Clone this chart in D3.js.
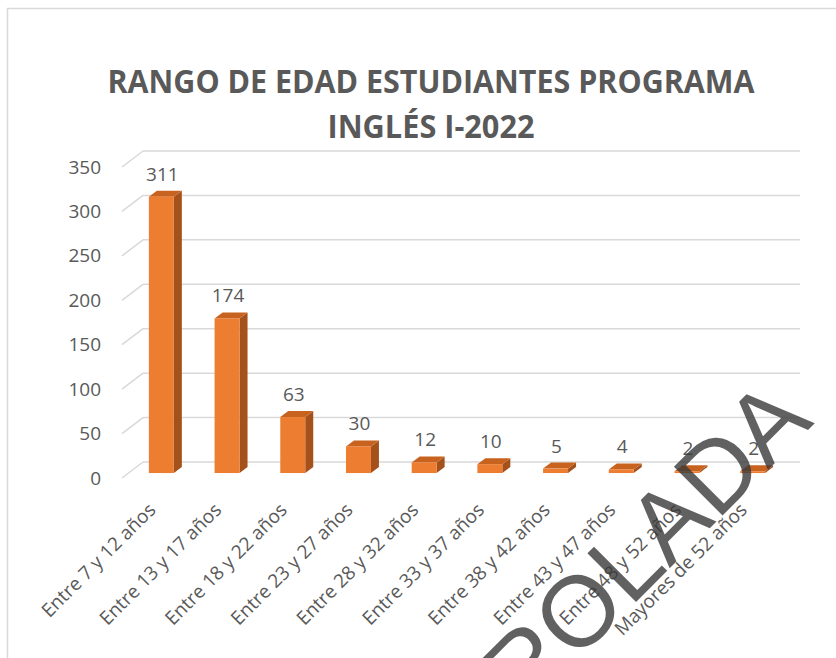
<!DOCTYPE html>
<html>
<head>
<meta charset="utf-8">
<script src="https://cdn.jsdelivr.net/npm/d3@7"></script>
<style>
  body { margin: 0; background: #fff; }
  svg { display: block; font-family: "Open Sans", sans-serif; }
</style>
</head>
<body>
<div id="chart"></div>
<script>
const categories = ["Entre 7 y 12 años", "Entre 13 y 17 años", "Entre 18 y 22 años", "Entre 23 y 27 años",
    "Entre 28 y 32 años", "Entre 33 y 37 años", "Entre 38 y 42 años", "Entre 43 y 47 años",
    "Entre 48 y 52 años", "Mayores de 52 años"];
const values = [311, 174, 63, 30, 12, 10, 5, 4, 2, 2];
const yTicks = [0, 50, 100, 150, 200, 250, 300, 350];
const titleLines = ["RANGO DE EDAD ESTUDIANTES PROGRAMA", "INGLÉS I-2022"];

const width = 836, height = 658;
const grey = "#595959";

// back wall of the 3d plot and the depth offset to the front edge of the floor
const back = { left: 143, right: 800, top: 151, bottom: 462 };
const depth = { dx: -21, dy: 16 };
const barPos = 0.31;            // where the front face of a bar sits inside the depth
const barDepth = { dx: 8, dy: -6 };

const svg = d3.select("#chart")
    .append("svg")
    .attr("width", width)
    .attr("height", height);

svg.append("rect")
    .attr("x", 7.5).attr("y", 8.5)
    .attr("width", 900).attr("height", 900)
    .attr("fill", "#fff")
    .attr("stroke", "#d9d9d9")
    .attr("stroke-width", 1.5);

//title
svg.selectAll(".title")
    .data(titleLines)
    .enter()
    .append("text")
    .attr("class", "title")
    .attr("x", 431)
    .attr("y", (d, i) => 93 + i * 45)
    .attr("text-anchor", "middle")
    .attr("font-size", 32)
    .attr("font-weight", "bold")
    .attr("fill", grey)
    .attr("textLength", (d, i) => i === 0 ? 647 : 207)
    .attr("lengthAdjust", "spacingAndGlyphs")
    .text(d => d);

const yScale = d3.scaleLinear()
    .domain([0, 350])
    .range([back.bottom, back.top]);

const xScale = d3.scaleBand()
    .domain(categories)
    .range([back.left + depth.dx, back.right + depth.dx])
    .paddingInner(0.62)
    .paddingOuter(0.31);

//grid: back wall lines and the short slanted lines on the side wall
const grid = svg.append("g").attr("stroke", "#d9d9d9").attr("stroke-width", 1.5).attr("fill", "none");
grid.selectAll(".grid-back")
    .data(yTicks)
    .enter()
    .append("line")
    .attr("x1", back.left).attr("x2", back.right)
    .attr("y1", d => yScale(d)).attr("y2", d => yScale(d));
grid.selectAll(".grid-side")
    .data(yTicks)
    .enter()
    .append("line")
    .attr("x1", back.left + depth.dx).attr("x2", back.left)
    .attr("y1", d => yScale(d) + depth.dy).attr("y2", d => yScale(d));

//y axis labels, aligned with the front edge
const yAxis = d3.axisLeft(yScale)
    .tickValues(yTicks)
    .tickSize(0)
    .tickPadding(0);

const yAxisG = svg.append("g")
    .attr("transform", "translate(101," + depth.dy + ")")
    .call(yAxis);
yAxisG.select(".domain").remove();
yAxisG.selectAll("text")
    .attr("font-family", "Open Sans")
    .attr("font-size", 19)
    .attr("fill", grey);

// bar geometry helpers
const offX = depth.dx * (1 - barPos);
const offY = depth.dy * (1 - barPos);
const frontX = d => xScale(d) - depth.dx + offX;   // left of front face
const frontY = v => yScale(v) + offY;              // top of front face
const baseY = frontY(0);
const bw = xScale.bandwidth();

const bars = svg.selectAll(".bar")
    .data(categories.map((c, i) => ({ c, v: values[i] })))
    .enter()
    .append("g")
    .attr("class", "bar");

// side face
bars.append("path")
    .attr("fill", "#a5511c")
    .attr("d", d => {
        const x = frontX(d.c) + bw, yt = frontY(d.v);
        return `M${x},${yt}L${x + barDepth.dx},${yt + barDepth.dy}L${x + barDepth.dx},${baseY + barDepth.dy}L${x},${baseY}Z`;
    });
// top face
bars.append("path")
    .attr("fill", "#c8621f")
    .attr("d", d => {
        const x = frontX(d.c), yt = frontY(d.v);
        return `M${x},${yt}L${x + barDepth.dx},${yt + barDepth.dy}L${x + bw + barDepth.dx},${yt + barDepth.dy}L${x + bw},${yt}Z`;
    });
// front face
bars.append("rect")
    .attr("fill", "#ed7d31")
    .attr("x", d => frontX(d.c))
    .attr("y", d => frontY(d.v))
    .attr("width", bw)
    .attr("height", d => baseY - frontY(d.v));

//value labels
svg.selectAll(".value-label")
    .data(categories.map((c, i) => ({ c, v: values[i] })))
    .enter()
    .append("text")
    .attr("class", "value-label")
    .attr("x", d => frontX(d.c) + bw / 2 + 1)
    .attr("y", d => frontY(d.v) - 16)
    .attr("text-anchor", "middle")
    .attr("font-size", 19)
    .attr("fill", grey)
    .text(d => d.v);

//x axis labels, rotated
const xAxis = d3.axisBottom(xScale)
    .tickSize(0)
    .tickPadding(0);

const xAxisG = svg.append("g")
    .attr("transform", "translate(" + 2 + "," + 511 + ")")
    .call(xAxis);
xAxisG.select(".domain").remove();
xAxisG.selectAll("text")
    .attr("font-family", "Open Sans")
    .attr("font-size", 19)
    .attr("fill", grey)
    .attr("text-anchor", "end")
    .attr("x", 0)
    .attr("y", 0)
    .attr("dy", 0)
    .attr("transform", "rotate(-45)");

//watermark
svg.append("text")
    .attr("transform", "translate(815,423) rotate(-45)")
    .attr("text-anchor", "end")
    .attr("font-family", "Liberation Sans")
    .attr("font-size", 100)
    .attr("fill", "#3a3a3a")
    .attr("fill-opacity", 0.8)
    .text("NO CONTROLADA");
</script>
</body>
</html>
